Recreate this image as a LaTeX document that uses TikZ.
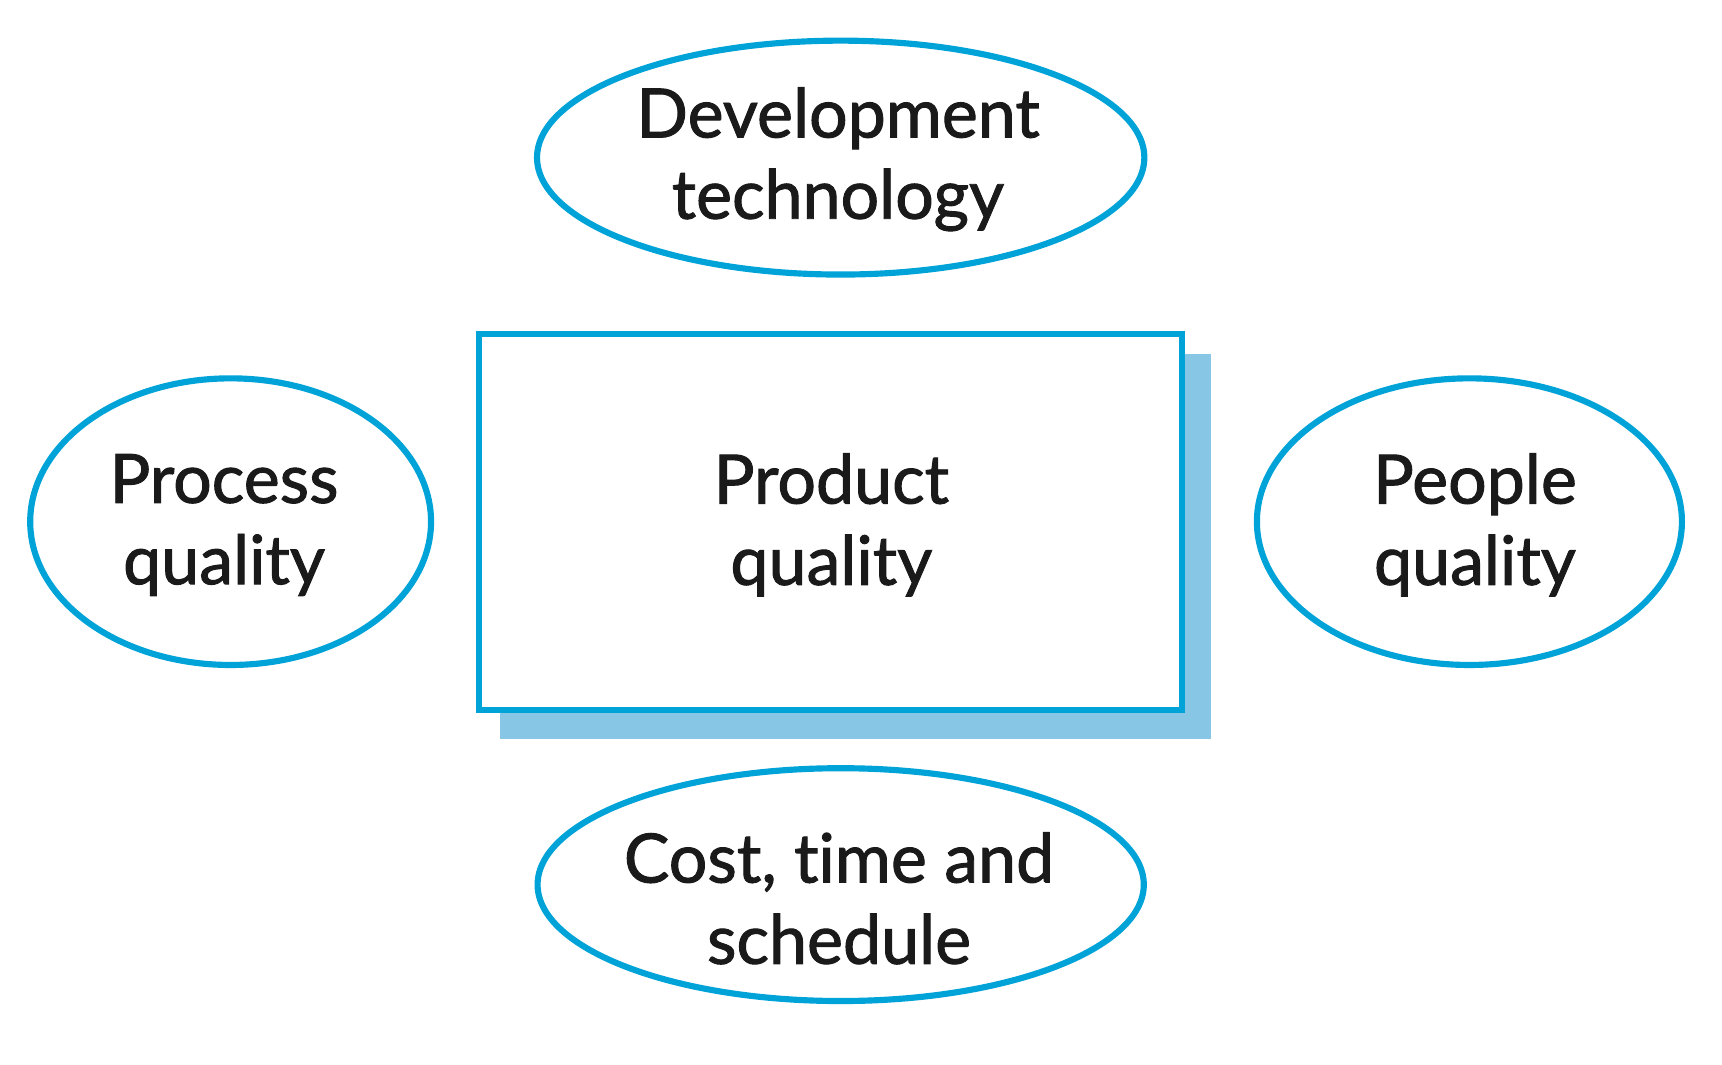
\documentclass[tikz,border=0pt]{standalone}
\usepackage{fontspec}
\setmainfont[Ligatures=NoCommon,FakeBold=1.4]{Lato}
\usetikzlibrary{shapes.geometric}
\definecolor{qblue}{HTML}{00A3D8}
\definecolor{qshadow}{HTML}{87C6E4}
\definecolor{qtext}{HTML}{1A1A1A}
\begin{document}
\begin{tikzpicture}[x=0.5pt,y=-0.5pt,
  lbl/.style={font=\fontsize{31}{37}\selectfont, text=qtext, align=center, inner sep=0pt},
  oval/.style={ellipse, draw=qblue, line width=2.8pt, fill=white, inner sep=0pt},
  box/.style={rectangle, draw=qblue, line width=2.8pt, fill=white, inner sep=0pt}]
\useasboundingbox (0,0) rectangle (1568,969);
\fill[qshadow] (455,322) rectangle (1103,673);
\node[box, minimum width=320pt, minimum height=171pt] (prod) at (756.5,475.5) {};
\node[oval, minimum width=276.5pt, minimum height=106.5pt] (dev) at (765.5,143.5) {};
\node[oval, minimum width=182.5pt, minimum height=130.5pt] (proc) at (210,475) {};
\node[oval, minimum width=193.5pt, minimum height=130.5pt] (peop) at (1338,475) {};
\node[oval, minimum width=276pt, minimum height=106pt] (cost) at (765.5,805.5) {};
\node[lbl] (prodtxt) at (757,478) {Product\\quality};
\node[lbl] (devtxt) at (763,145) {Development\\technology};
\node[lbl] (proctxt) at (204,478) {Process\\quality};
\node[lbl] (peoptxt) at (1343,478) {People\\quality};
\node[lbl] (costtxt) at (764,818) {Cost, time and\\schedule};
\end{tikzpicture}
\end{document}
